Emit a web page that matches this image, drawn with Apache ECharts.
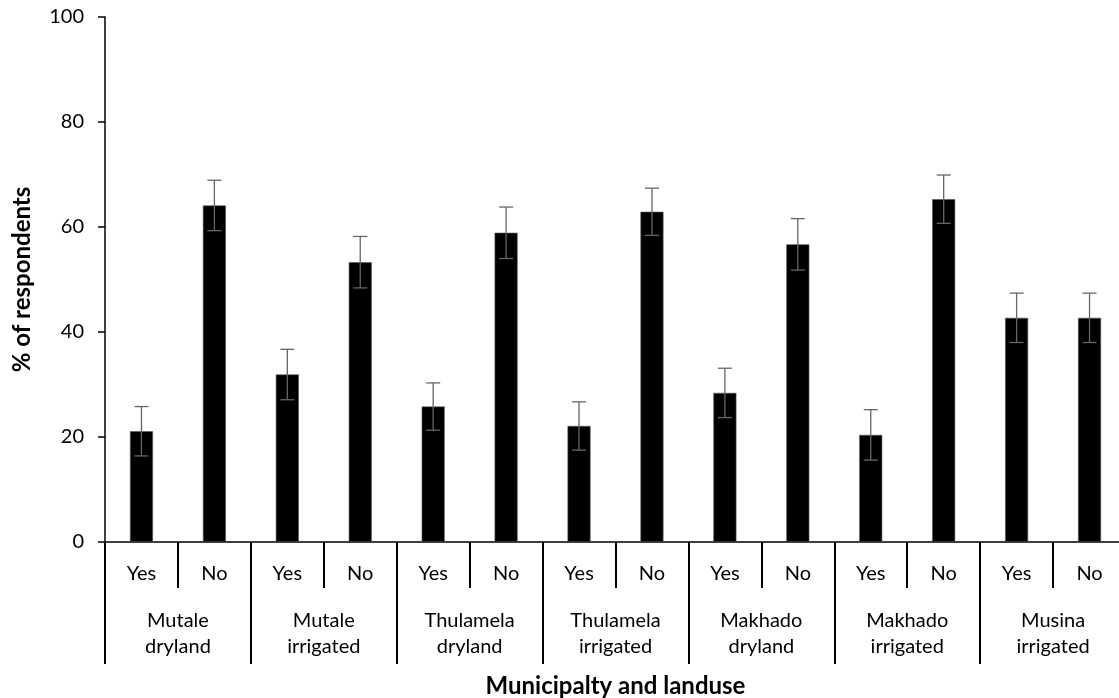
<!DOCTYPE html>
<html>
<head>
<meta charset="utf-8">
<script src="https://cdn.jsdelivr.net/npm/echarts@6/dist/echarts.min.js"></script>
<style>
html,body{margin:0;padding:0;background:#fff;}
#chart{width:1119px;height:698px;}
</style>
</head>
<body>
<div id="chart"></div>
<script>
const responses = ['Yes','No','Yes','No','Yes','No','Yes','No','Yes','No','Yes','No','Yes','No'];
const groups = ['Mutale\ndryland','Mutale\nirrigated','Thulamela\ndryland','Thulamela\nirrigated','Makhado\ndryland','Makhado\nirrigated','Musina\nirrigated'];
const values = [21.1, 64.1, 31.9, 53.3, 25.8, 58.9, 22.1, 62.9, 28.4, 56.7, 20.4, 65.3, 42.7, 42.7];
const errors = [4.7, 4.8, 4.8, 4.9, 4.5, 4.9, 4.6, 4.5, 4.7, 4.9, 4.8, 4.6, 4.7, 4.7];
const yTicks = [0, 20, 40, 60, 80, 100];

const errData = values.map((v, i) => [i, v - errors[i], v + errors[i]]);
const FONT = 'Lato';

const chart = echarts.init(document.getElementById('chart'), null, {renderer: 'canvas'});
chart.setOption({
  animation: false,
  backgroundColor: '#fff',
  textStyle: {fontFamily: FONT},
  grid: {left: 105, top: 17, width: 1021, height: 525, containLabel: false, outerBoundsMode: 'none'},
  xAxis: [
    {
      type: 'category',
      data: responses,
      position: 'bottom',
      boundaryGap: true,
      axisLine: {show: true, lineStyle: {color: '#000', width: 1.5}},
      axisTick: {show: true, interval: 0, length: 46, lineStyle: {color: '#000', width: 2}},
      axisLabel: {interval: 0, margin: 21, color: '#000', fontSize: 20, fontFamily: FONT, lineHeight: 22},
      splitLine: {show: false}
    },
    {
      type: 'category',
      data: groups,
      position: 'bottom',
      offset: 46,
      boundaryGap: true,
      axisLine: {show: false},
      axisTick: {show: true, interval: 0, length: 76, lineStyle: {color: '#000', width: 2}},
      axisLabel: {interval: 0, margin: 20, color: '#000', fontSize: 20, fontFamily: FONT, lineHeight: 26},
      splitLine: {show: false},
      name: 'Municipalty and landuse',
      nameLocation: 'middle',
      nameGap: 86,
      nameTextStyle: {color: '#000', fontSize: 24, fontWeight: 'bold', fontFamily: FONT}
    }
  ],
  yAxis: {
    type: 'value',
    min: 0,
    max: 100,
    interval: 20,
    axisLine: {show: true, lineStyle: {color: '#000', width: 1.5}},
    axisTick: {show: true, inside: false, length: 7, lineStyle: {color: '#000', width: 1.5}},
    axisLabel: {margin: 21, color: '#000', fontSize: 20, fontFamily: FONT,
      formatter: v => yTicks.includes(v) ? String(v) : ''},
    splitLine: {show: false},
    name: '% of respondents',
    nameLocation: 'middle',
    nameGap: 71,
    nameTextStyle: {color: '#000', fontSize: 24, fontWeight: 'bold', fontFamily: FONT}
  },
  series: [
    {
      type: 'bar',
      xAxisIndex: 0,
      data: values,
      barWidth: 23,
      itemStyle: {color: '#000', borderColor: '#555', borderWidth: 0.6},
      z: 2
    },
    {
      type: 'custom',
      xAxisIndex: 0,
      data: errData,
      encode: {x: 0, y: [1, 2]},
      z: 3,
      renderItem: function (params, api) {
        const x = api.value(0);
        const lo = api.coord([x, api.value(1)]);
        const hi = api.coord([x, api.value(2)]);
        const hw = 7;
        const style = {stroke: '#666', lineWidth: 1.3};
        return {
          type: 'group',
          children: [
            {type: 'line', shape: {x1: hi[0], y1: hi[1], x2: lo[0], y2: lo[1]}, style: style},
            {type: 'line', shape: {x1: hi[0] - hw, y1: hi[1], x2: hi[0] + hw, y2: hi[1]}, style: style},
            {type: 'line', shape: {x1: lo[0] - hw, y1: lo[1], x2: lo[0] + hw, y2: lo[1]}, style: style}
          ]
        };
      }
    }
  ]
});
</script>
</body>
</html>
